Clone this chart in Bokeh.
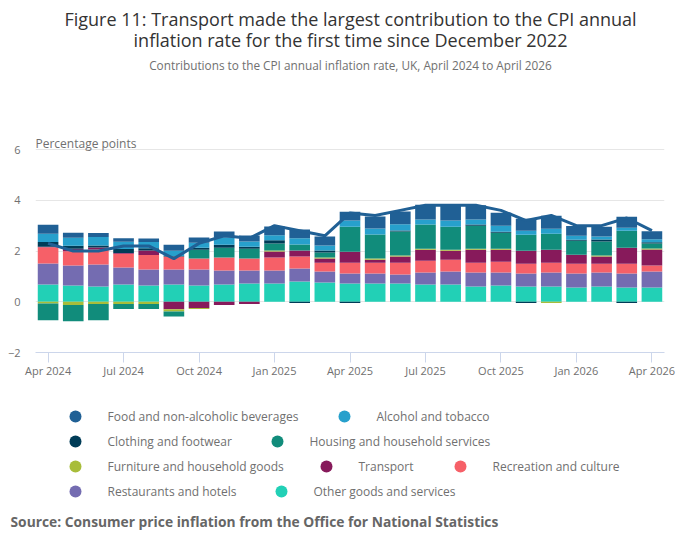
import numpy as np
from bokeh.plotting import figure
from bokeh.models import ColumnDataSource, Range1d, FixedTicker
from bokeh.embed import file_html
from bokeh.resources import INLINE
from bokeh.core.properties import value

# ---------------- data ----------------
months = ["Apr 2024", "May 2024", "Jun 2024", "Jul 2024", "Aug 2024", "Sep 2024",
          "Oct 2024", "Nov 2024", "Dec 2024", "Jan 2025", "Feb 2025", "Mar 2025",
          "Apr 2025", "May 2025", "Jun 2025", "Jul 2025", "Aug 2025", "Sep 2025",
          "Oct 2025", "Nov 2025", "Dec 2025", "Jan 2026", "Feb 2026", "Mar 2026",
          "Apr 2026"]
tick_months = ["Apr 2024", "Jul 2024", "Oct 2024", "Jan 2025", "Apr 2025",
               "Jul 2025", "Oct 2025", "Jan 2026", "Apr 2026"]
y_ticks = [-2, 0, 2, 4, 6]

food = [0.35, 0.20, 0.16, 0.14, 0.14, 0.24, 0.20, 0.24, 0.24, 0.35, 0.35, 0.35, 0.35,
        0.47, 0.51, 0.58, 0.60, 0.56, 0.51, 0.47, 0.51, 0.39, 0.39, 0.43, 0.32]
alcohol = [0.33, 0.31, 0.33, 0.28, 0.24, 0.21, 0.20, 0.28, 0.20, 0.20, 0.24, 0.20, 0.24,
           0.24, 0.24, 0.20, 0.24, 0.20, 0.24, 0.16, 0.20, 0.16, 0.12, 0.12, 0.12]
clothing = [0.18, 0.12, 0.08, 0.16, 0.09, 0.02, 0.08, 0.12, 0.08, 0.12, -0.05, 0.08, -0.05,
            0.00, 0.04, 0.00, 0.00, 0.04, 0.04, -0.05, 0.00, 0.04, 0.08, -0.05, 0.04]
housing = [-0.66, -0.64, -0.64, -0.20, -0.20, -0.20, 0.35, 0.39, 0.39, 0.28, 0.24, 0.20, 0.99,
           0.95, 0.95, 0.95, 0.91, 0.91, 0.63, 0.63, 0.63, 0.55, 0.55, 0.67, 0.20]
furniture = [-0.07, -0.13, -0.09, -0.09, -0.09, -0.08, -0.04, 0.00, 0.00, 0.04, 0.00, 0.04, 0.00,
             0.04, 0.04, 0.04, 0.04, 0.04, 0.04, 0.00, -0.05, 0.00, 0.04, 0.00, 0.04]
transport = [0.02, 0.10, 0.07, 0.03, 0.18, -0.30, -0.25, -0.13, -0.09, 0.24, 0.24, 0.16, 0.43,
             0.12, 0.24, 0.43, 0.35, 0.51, 0.47, 0.51, 0.51, 0.35, 0.28, 0.63, 0.63]
recreation = [0.64, 0.56, 0.60, 0.54, 0.57, 0.51, 0.43, 0.51, 0.47, 0.51, 0.47, 0.35, 0.43,
              0.43, 0.47, 0.47, 0.47, 0.39, 0.43, 0.39, 0.39, 0.39, 0.35, 0.39, 0.24]
restaurants = [0.83, 0.79, 0.87, 0.67, 0.63, 0.59, 0.63, 0.55, 0.51, 0.51, 0.51, 0.43, 0.39,
               0.39, 0.35, 0.47, 0.51, 0.55, 0.51, 0.51, 0.55, 0.55, 0.55, 0.55, 0.63]
other = [0.68, 0.64, 0.60, 0.68, 0.64, 0.68, 0.64, 0.68, 0.72, 0.72, 0.80, 0.76, 0.72,
         0.72, 0.72, 0.68, 0.68, 0.60, 0.64, 0.60, 0.60, 0.56, 0.60, 0.56, 0.56]
cpi = [2.3, 2.0, 2.0, 2.2, 2.2, 1.7, 2.3, 2.6, 2.5, 3.0, 2.8, 2.6, 3.5,
       3.4, 3.6, 3.8, 3.8, 3.8, 3.6, 3.2, 3.4, 3.0, 3.0, 3.3, 2.8]

names = ["Food and non-alcoholic beverages", "Alcohol and tobacco", "Clothing and footwear",
         "Housing and household services", "Furniture and household goods", "Transport",
         "Recreation and culture", "Restaurants and hotels", "Other goods and services"]
series = [food, alcohol, clothing, housing, furniture, transport, recreation, restaurants, other]
colors = ["#206095", "#27a0cc", "#003c57", "#118c7b", "#a8bd3a", "#871a5b",
          "#f66068", "#746cb1", "#22d0b6"]

title_lines = ["Figure 11: Transport made the largest contribution to the CPI annual",
               "inflation rate for the first time since December 2022"]
subtitle = "Contributions to the CPI annual inflation rate, UK, April 2024 to April 2026"
y_title = "Percentage points"
source = "Source: Consumer price inflation from the Office for National Statistics"

# ---------------- layout constants (page pixels) ----------------
FONT = "Open Sans"
GREY = "#707070"
W = 684
H1 = 395          # main figure: page y 0..395
H2 = 146          # legend figure: page y 395..541
FL, FR = 35, 664  # frame left / right
FB = 352          # frame bottom (value -2)
PX_PER_UNIT = 25.375

n = len(months)
x = np.arange(n)
tick_pos = [months.index(m) for m in tick_months]
ytop = -2 + FB / PX_PER_UNIT

p = figure(width=W, height=H1, x_range=Range1d(-0.5, n - 0.5),
           y_range=Range1d(-2, ytop), output_backend="svg", toolbar_location=None,
           min_border_left=FL, min_border_right=W - FR,
           min_border_top=0, min_border_bottom=H1 - FB)
p.outline_line_color = None
p.background_fill_color = "white"
p.border_fill_color = "white"

# stacking: last series nearest zero, same order for negatives
pos_base = np.zeros(n)
neg_base = np.zeros(n)
for vals, name, col in list(zip(series, names, colors))[::-1]:
    v = np.array(vals, dtype=float)
    bottom = np.where(v >= 0, pos_base, neg_base + v)
    top = np.where(v >= 0, pos_base + v, neg_base)
    pos_base = np.where(v >= 0, pos_base + v, pos_base)
    neg_base = np.where(v < 0, neg_base + v, neg_base)
    src = ColumnDataSource(dict(x=x, top=top, bottom=bottom))
    p.vbar(x="x", top="top", bottom="bottom", width=0.82, source=src,
           fill_color=col, line_color=None)

p.line(x, cpi, line_color="#206095", line_width=3)

# axes
p.xaxis.ticker = FixedTicker(ticks=tick_pos)
p.xaxis.major_label_overrides = {i: m for i, m in zip(tick_pos, tick_months)}
p.xaxis.axis_line_color = "#ccd6eb"
p.xaxis.major_tick_line_color = "#ccd6eb"
p.xaxis.major_tick_in = 0
p.xaxis.major_tick_out = 10
p.xaxis.minor_tick_line_color = None
p.xaxis.minor_tick_out = 0
p.xaxis.major_label_standoff = 0
p.xaxis.major_label_text_font = FONT
p.xaxis.major_label_text_font_size = "11px"
p.xaxis.major_label_text_color = GREY

p.yaxis.ticker = FixedTicker(ticks=y_ticks)
p.yaxis.axis_line_color = None
p.yaxis.major_tick_line_color = None
p.yaxis.major_tick_in = 0
p.yaxis.major_tick_out = 0
p.yaxis.minor_tick_line_color = None
p.yaxis.minor_tick_out = 0
p.yaxis.major_label_standoff = 15
p.yaxis.major_label_text_font = FONT
p.yaxis.major_label_text_font_size = "11px"
p.yaxis.major_label_text_color = GREY

p.xgrid.grid_line_color = None
p.ygrid.grid_line_color = "#e6e6e6"

# page coordinate helpers for the text block above the plot area
def fx(px):
    return -0.5 + (px - FL) / ((FR - FL) / n)

def fy(py):
    return -2 + (FB - py) / PX_PER_UNIT

p.text(x=[fx(350), fx(350)], y=[fy(18), fy(39)], text=title_lines,
       text_font=value(FONT), text_font_size="18px", text_color="#333333",
       text_align="center", text_baseline="middle")
p.text(x=[fx(350)], y=[fy(64)], text=[subtitle],
       text_font=value(FONT), text_font_size="11.8px", text_color=GREY,
       text_align="center", text_baseline="middle")
p.text(x=[fx(FL)], y=[fy(143)], text=[y_title],
       text_font=value(FONT), text_font_size="12px", text_color=GREY,
       text_align="left", text_baseline="middle")

# ---------------- legend + source ----------------
q = figure(width=W, height=H2, x_range=Range1d(0, W), y_range=Range1d(H1 + H2, H1),
           output_backend="svg", toolbar_location=None, min_border=0,
           x_axis_location=None, y_axis_location=None)
q.grid.visible = False
q.outline_line_color = None
q.border_fill_color = "white"
q.background_fill_color = "white"

leg_x = [75, 344, 75, 277, 75, 326, 460, 75, 281]
leg_y = [416, 416, 441, 441, 466, 466, 466, 491, 491]
q.scatter(x=leg_x, y=leg_y, size=12, marker="circle", fill_color=colors, line_color=None)
q.text(x=[v + 32 for v in leg_x], y=leg_y, text=names, text_font=value(FONT),
       text_font_size="12px", text_color=GREY, text_baseline="middle", text_align="left")
q.text(x=[10], y=[521], text=[source],
       text_font=value(FONT), text_font_size="13.8px", text_font_style="bold",
       text_color="#666666", text_baseline="middle", text_align="left")

open("out.html", "w").write(file_html([p, q], INLINE))
